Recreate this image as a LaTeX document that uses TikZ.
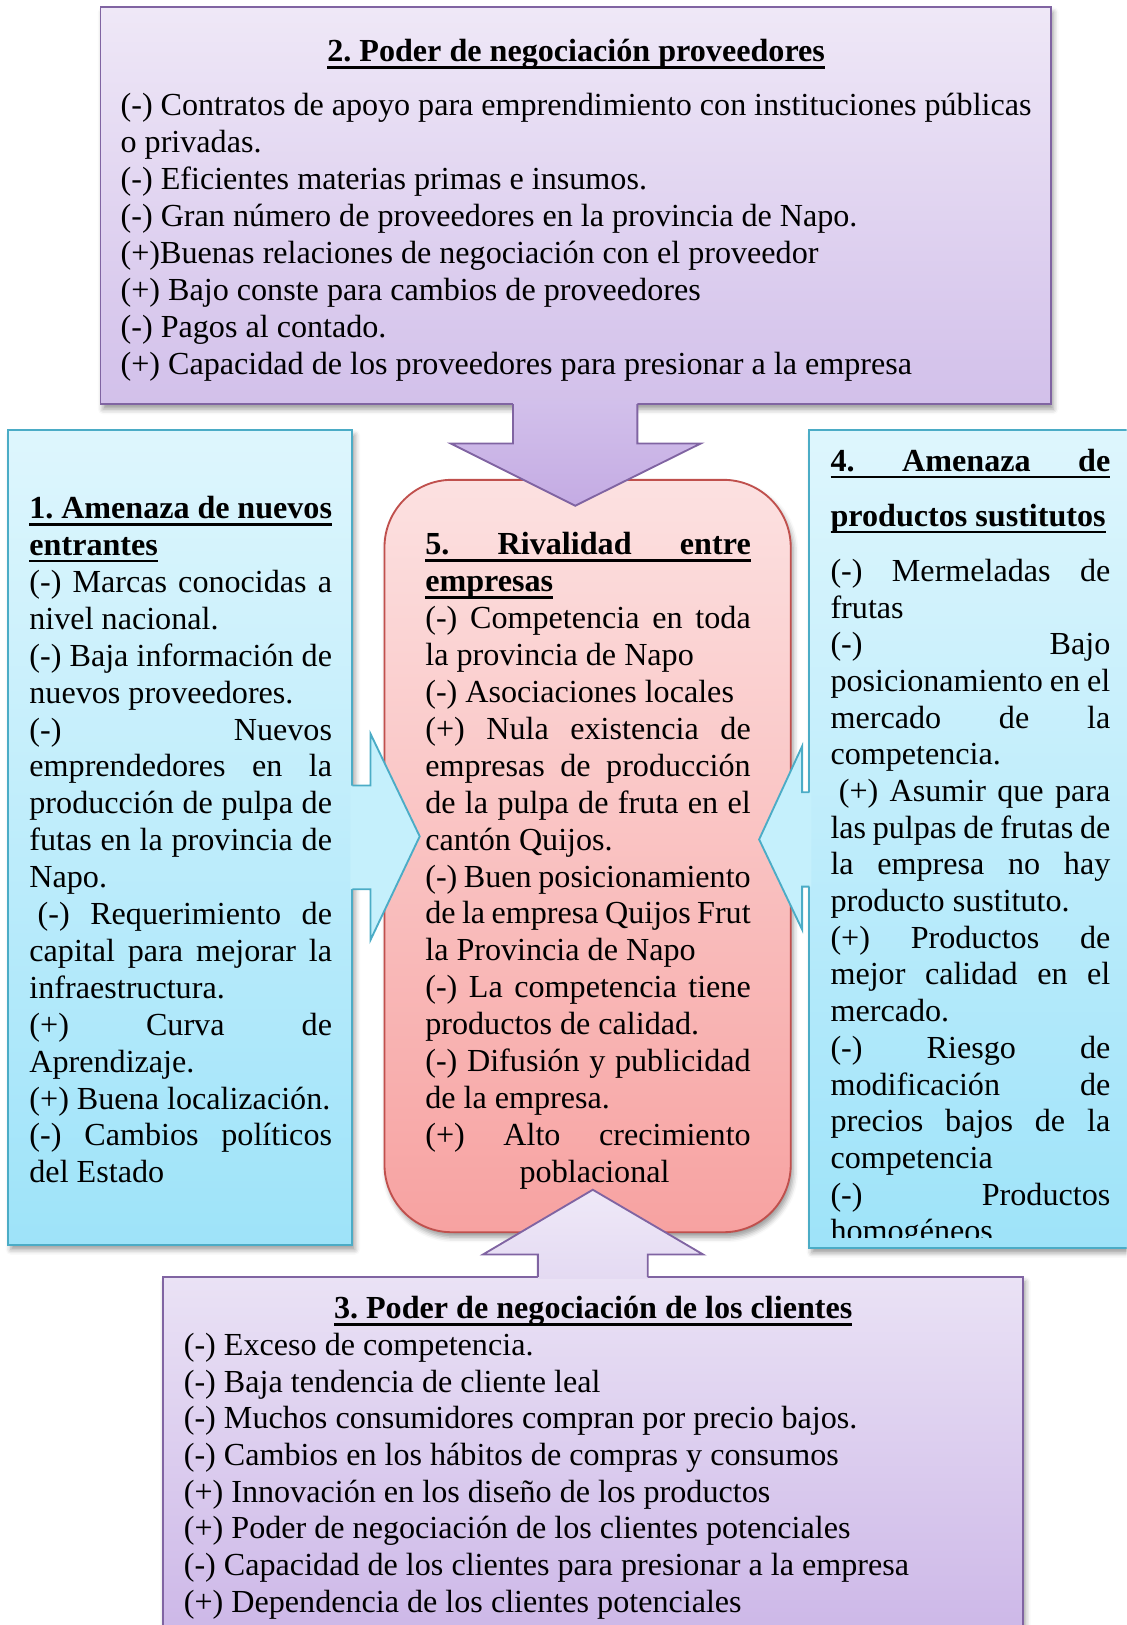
\documentclass[tikz,border=0pt]{standalone}
\usepackage{fontspec}
\setmainfont{Liberation Serif}
\usetikzlibrary{shadows.blur}
\definecolor{purpleB}{HTML}{8064A2}
\definecolor{cyanB}{HTML}{4BACC6}
\definecolor{redB}{HTML}{C0504D}
\definecolor{topA}{HTML}{EFE8F7}
\definecolor{topB}{HTML}{D2C0EA}
\definecolor{botA}{HTML}{EAE2F5}
\definecolor{botB}{HTML}{C9B2E6}
\definecolor{cyA}{HTML}{DEF6FD}
\definecolor{cyB}{HTML}{9EE3F9}
\definecolor{rdA}{HTML}{FCE1E1}
\definecolor{rdB}{HTML}{F7A2A1}
\definecolor{dnA}{HTML}{D2C0EB}
\definecolor{dnB}{HTML}{C4ABE3}
\definecolor{upA}{HTML}{EFE9F8}
\definecolor{upB}{HTML}{E4DAF2}
\definecolor{arrCy}{HTML}{C5F0FC}
\frenchspacing
\hyphenpenalty=10000
\exhyphenpenalty=10000
\newcommand\jus[1]{\makebox[\linewidth][s]{#1}}
\newcommand\myul[1]{\leavevmode\setbox0=\hbox{#1}\rlap{\rule[-3.3pt]{\wd0}{1.3pt}}\box0}
\newenvironment{boxpar}[2]{\begin{minipage}[t]{#1}\fontsize{15.5pt}{#2}\selectfont\parindent=0pt}{\end{minipage}}
\begin{document}
\begin{tikzpicture}[x=0.5pt,y=-0.5pt,
  bshadow/.style={blur shadow={shadow xshift=1.2pt,shadow yshift=-2.4pt,shadow blur radius=2.5pt,shadow opacity=40}},
  purplebox/.style={bshadow,draw=purpleB,line width=0.9pt},
  cyanbox/.style={bshadow,draw=cyanB,line width=0.9pt,top color=cyA,bottom color=cyB},
  redbox/.style={bshadow,draw=redB,line width=0.9pt,top color=rdA,bottom color=rdB,rounded corners=32.5pt},
  purpleline/.style={draw=purpleB,line width=0.9pt,line join=miter},
  cyanline/.style={draw=cyanB,line width=0.9pt,line join=miter},
  boxtext/.style={anchor=base west,inner sep=0pt},
]
\useasboundingbox (0,0) rectangle (1087,1568);
\clip (0,0) rectangle (1087,1568);

% boxes
\path[purplebox,top color=topA,bottom color=topB] (97,7) rectangle (1014,390);
\path[cyanbox] (8,415) rectangle (340,1201);
\path[cyanbox] (781,415) rectangle (1120,1204);
\path[purplebox,top color=botA,bottom color=botB] (157,1232) rectangle (987,1620);
\path[redbox] (371,463) rectangle (763,1189);

% block arrows
\shade[top color=dnA,bottom color=dnB] (495,387) -- (495,428) -- (435,428) -- (555,488) -- (676,428) -- (615,428) -- (615,387) -- cycle;
\draw[purpleline] (495,390) -- (495,428) -- (435,428) -- (555,488) -- (676,428) -- (615,428) -- (615,390);

\fill[arrCy] (338,758) -- (357.5,758) -- (357.5,708) -- (405,807) -- (357.5,907) -- (357.5,858) -- (338,858) -- cycle;
\draw[cyanline] (340,758) -- (357.5,758) -- (357.5,708) -- (405,807) -- (357.5,907) -- (357.5,858) -- (340,858);

\fill[arrCy] (783,764.5) -- (774,764.5) -- (774,720) -- (732.5,810) -- (774,897) -- (774,855.5) -- (783,855.5) -- cycle;
\draw[cyanline] (781,764.5) -- (774,764.5) -- (774,720) -- (732.5,810) -- (774,897) -- (774,855.5) -- (781,855.5);

\shade[top color=upA,bottom color=upB] (519,1234) -- (519,1210.5) -- (466,1210.5) -- (572,1148) -- (678.5,1210.5) -- (625,1210.5) -- (625,1234) -- cycle;
\draw[purpleline] (519,1232) -- (519,1210.5) -- (466,1210.5) -- (572,1148) -- (678.5,1210.5) -- (625,1210.5) -- (625,1232);

% texts
\node[boxtext] (t2) at (116,59.5) {\begin{boxpar}{439.5pt}{17.9pt}%
\makebox[\linewidth]{\myul{\bfseries 2. Poder de negociación proveedores}}\\[7.85pt]
\jus{(-) Contratos de apoyo para emprendimiento con instituciones públicas}\\
o privadas.\\
(-) Eficientes materias primas e insumos.\\
(-) Gran número de proveedores en la provincia de Napo.\\
(+)Buenas relaciones de negociación con el proveedor\\
(+) Bajo conste para cambios de proveedores\\
(-) Pagos al contado.\\
(+) Capacidad de los proveedores para presionar a la empresa\end{boxpar}};

\node[boxtext] (t1) at (28,500.5) {\begin{boxpar}{146pt}{17.8pt}%
\myul{\jus{\bfseries 1. Amenaza de nuevos}}\\
\myul{\bfseries entrantes}\\
\jus{(-) Marcas conocidas a}\\
nivel nacional.\\
\jus{(-) Baja información de}\\
nuevos proveedores.\\
\jus{(-) Nuevos}\\
\jus{emprendedores en la}\\
\jus{producción de pulpa de}\\
\jus{futas en la provincia de}\\
Napo.\\
\jus{\hspace*{4pt}(-) Requerimiento de}\\
\jus{capital para mejorar la}\\
infraestructura.\\
\jus{(+) Curva de}\\
Aprendizaje.\\
(+) Buena localización.\\
\jus{(-) Cambios políticos}\\
del Estado\end{boxpar}};

\node[boxtext] (t5) at (410,535.5) {\begin{boxpar}{157pt}{17.8pt}%
\myul{\jus{\bfseries 5. Rivalidad entre}}\\
\myul{\bfseries empresas}\\
\jus{(-) Competencia en toda}\\
la provincia de Napo\\
(-) Asociaciones locales\\
\jus{(+) Nula existencia de}\\
\jus{empresas de producción}\\
\jus{de la pulpa de fruta en el}\\
cantón Quijos.\\
\jus{(-) Buen posicionamiento}\\
\jus{de la empresa Quijos Frut}\\
la Provincia de Napo\\
\jus{(-) La competencia tiene}\\
productos de calidad.\\
\jus{(-) Difusión y publicidad}\\
de la empresa.\\
\jus{(+) Alto crecimiento}\\
\hspace*{45.5pt}poblacional\end{boxpar}};

\begin{scope}
\clip (781,415) rectangle (1087,1194);
\node[boxtext] (t4) at (801,455) {\begin{boxpar}{135pt}{17.7pt}%
\myul{\jus{\bfseries 4. Amenaza de}}\\[8.8pt]
\myul{\mbox{\bfseries productos sustitutos}}\\[8.8pt]
\jus{(-) Mermeladas de}\\
frutas\\
\jus{(-) Bajo}\\
\jus{posicionamiento en el}\\
\jus{mercado de la}\\
competencia.\\
\jus{\hspace*{4pt}(+) Asumir que para}\\
\jus{las pulpas de frutas de}\\
\jus{la empresa no hay}\\
producto sustituto.\\
\jus{(+) Productos de}\\
\jus{mejor calidad en el}\\
mercado.\\
\jus{(-) Riesgo de}\\
\jus{modificación de}\\
\jus{precios bajos de la}\\
competencia\\
\jus{(-) Productos}\\
homogéneos\end{boxpar}};
\end{scope}

\node[boxtext] (t3) at (177,1272.5) {\begin{boxpar}{395pt}{17.7pt}%
\makebox[\linewidth]{\myul{\bfseries 3. Poder de negociación de los clientes}}\\
(-) Exceso de competencia.\\
(-) Baja tendencia de cliente leal\\
(-) Muchos consumidores compran por precio bajos.\\
(-) Cambios en los hábitos de compras y consumos\\
(+) Innovación en los diseño de los productos\\
(+) Poder de negociación de los clientes potenciales\\
(-) Capacidad de los clientes para presionar a la empresa\\
(+) Dependencia de los clientes potenciales\end{boxpar}};
\end{tikzpicture}
\end{document}
